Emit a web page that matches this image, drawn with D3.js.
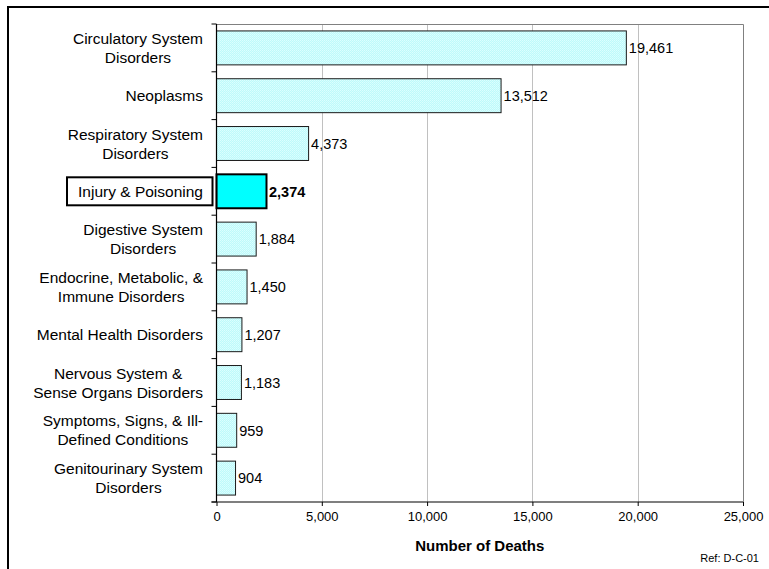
<!DOCTYPE html>
<html>
<head>
<meta charset="utf-8">
<script src="https://cdn.jsdelivr.net/npm/d3@7/dist/d3.min.js"></script>
<style>
  html, body { margin: 0; padding: 0; background: #fff; }
  svg { display: block; font-family: "Liberation Sans", Arial, sans-serif; }
</style>
</head>
<body>
<svg id="chart" width="769" height="569"></svg>
<script>
// ---- data ----
const categories = [
  ["Circulatory System", "Disorders"],
  ["Neoplasms"],
  ["Respiratory System", "Disorders"],
  ["Injury & Poisoning"],
  ["Digestive System", "Disorders"],
  ["Endocrine, Metabolic, &", "Immune Disorders"],
  ["Mental Health Disorders"],
  ["Nervous System &", "Sense Organs Disorders"],
  ["Symptoms, Signs, & Ill-", "Defined Conditions"],
  ["Genitourinary System", "Disorders"]
];
const deaths = [19461, 13512, 4373, 2374, 1884, 1450, 1207, 1183, 959, 904];
const highlighted = [false, false, false, true, false, false, false, false, false, false];
const xTicks = [0, 5000, 10000, 15000, 20000, 25000];
const xTitle = "Number of Deaths";
const refNote = "Ref: D-C-01";

(function () {
// ---- layout ----
const svg = d3.select("#chart");
const pLeft = 216.5, pRight = 743, pTop = 24, pBottom = 502;

const x = d3.scaleLinear().domain([0, 25000]).range([pLeft, pRight]);
const y = d3.scaleBand().domain(d3.range(categories.length)).range([pTop, pBottom])
  .paddingInner(0.29).paddingOuter(0.145);

const fmt = d3.format(",");

// pattern fill (fine dotted light cyan)
const defs = svg.append("defs");
const pat = defs.append("pattern").attr("id", "dots").attr("patternUnits", "userSpaceOnUse")
  .attr("width", 2).attr("height", 2);
pat.append("rect").attr("width", 2).attr("height", 2).attr("fill", "#bff9fa");
pat.append("rect").attr("x", 0).attr("y", 0).attr("width", 1).attr("height", 1).attr("fill", "#dcffff");
pat.append("rect").attr("x", 1).attr("y", 1).attr("width", 1).attr("height", 1).attr("fill", "#d2fefe");

// outer border
svg.append("rect").attr("x", 8).attr("y", 7).attr("width", 800).attr("height", 600)
  .attr("fill", "none").attr("stroke", "#000").attr("stroke-width", 2);

// gridlines
svg.append("g").selectAll("line").data(xTicks.filter(t => t > 0 && t < 25000)).join("line")
  .attr("x1", d => Math.round(x(d)) + 0.5).attr("x2", d => Math.round(x(d)) + 0.5)
  .attr("y1", pTop).attr("y2", pBottom)
  .attr("stroke", "#c0c0c0").attr("stroke-width", 1);

// plot area border (top/right)
svg.append("path")
  .attr("d", `M${pLeft},${pTop + 0.5}H${Math.round(x(25000)) + 0.5}V${pBottom}`)
  .attr("fill", "none").attr("stroke", "#808080").attr("stroke-width", 1);

// bars
svg.append("g").selectAll("rect").data(deaths).join("rect")
  .attr("x", x(0))
  .attr("y", (d, i) => y(i))
  .attr("width", d => x(d) - x(0))
  .attr("height", y.bandwidth())
  .attr("fill", (d, i) => highlighted[i] ? "#00ffff" : "url(#dots)")
  .attr("stroke", (d, i) => highlighted[i] ? "#000" : "#1a1a1a")
  .attr("stroke-width", (d, i) => highlighted[i] ? 2 : 1);

// value labels
svg.append("g").selectAll("text").data(deaths).join("text")
  .attr("x", d => x(d) + 2.5)
  .attr("y", (d, i) => y(i) + y.bandwidth() / 2)
  .attr("dy", "0.36em")
  .attr("font-size", 14.5)
  .attr("font-weight", (d, i) => highlighted[i] ? "bold" : "normal")
  .attr("fill", "#000")
  .text(d => fmt(d));

// y axis
const yAxisG = svg.append("g");
yAxisG.append("line").attr("x1", pLeft).attr("x2", pLeft).attr("y1", pTop).attr("y2", pBottom)
  .attr("stroke", "#000").attr("stroke-width", 1.2);
const step = y.step();
yAxisG.selectAll("line.tick").data(d3.range(categories.length + 1)).join("line")
  .attr("class", "tick")
  .attr("x1", pLeft - 5).attr("x2", pLeft)
  .attr("y1", i => pTop + i * step).attr("y2", i => pTop + i * step)
  .attr("stroke", "#000").attr("stroke-width", 1);

// x axis
const xAxis = d3.axisBottom(x).tickValues(xTicks).tickFormat(fmt).tickSize(4).tickSizeOuter(0);
const xg = svg.append("g").attr("transform", `translate(0,${pBottom})`).call(xAxis);
xg.select(".domain").attr("stroke", "#000").attr("stroke-width", 1.2)
  .attr("d", `M${pLeft - 5},0H${pRight}`);
xg.selectAll(".tick line").attr("stroke", "#000");
xg.selectAll(".tick text").attr("font-size", 13).attr("font-family", "Liberation Sans, Arial, sans-serif")
  .attr("fill", "#000").attr("y", 10).attr("dy", "0.71em");

// category labels
const labelRight = 203;
const lineH = 19;
const catG = svg.append("g");
categories.forEach((lines, i) => {
  const cy = y(i) + y.bandwidth() / 2;
  const t = catG.append("text").attr("font-size", 15.5).attr("fill", "#000")
    .attr("text-anchor", "middle");
  lines.forEach((ln, k) => {
    t.append("tspan").attr("x", 0)
      .attr("y", cy + (k - (lines.length - 1) / 2) * lineH)
      .attr("dy", "0.36em").text(ln);
  });
  let maxW = 0;
  t.selectAll("tspan").each(function () { maxW = Math.max(maxW, this.getComputedTextLength()); });
  const cx = labelRight - maxW / 2;
  t.selectAll("tspan").attr("x", cx);
  if (highlighted[i]) {
    catG.append("rect")
      .attr("x", 67).attr("y", cy - 14)
      .attr("width", 212.5 - 67).attr("height", 28)
      .attr("fill", "none").attr("stroke", "#000").attr("stroke-width", 2);
  }
});

// axis title
svg.append("text").attr("x", (pLeft + pRight) / 2).attr("y", 546).attr("dy", "0.36em")
  .attr("text-anchor", "middle").attr("font-size", 15).attr("font-weight", "bold")
  .text(xTitle);

// ref note
svg.append("text").attr("x", 759).attr("y", 558).attr("dy", "0.36em")
  .attr("text-anchor", "end").attr("font-size", 11).text(refNote);
})();
</script>
</body>
</html>
